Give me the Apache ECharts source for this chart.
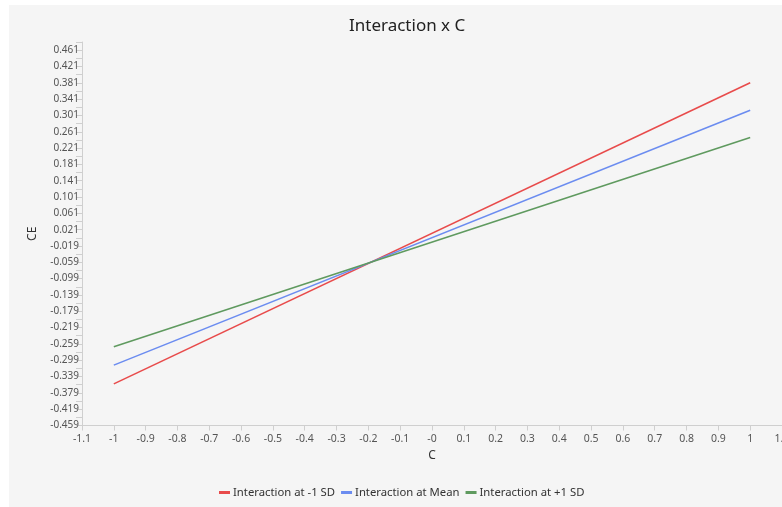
<!DOCTYPE html>
<html>
<head>
<meta charset="utf-8">
<script src="https://cdn.jsdelivr.net/npm/echarts@6/dist/echarts.min.js"></script>
<style>
  html, body { margin: 0; padding: 0; background: #ffffff; width: 782px; height: 507px; overflow: hidden; }
  #panel { position: absolute; left: 9px; top: 5px; width: 773px; height: 502px; background: #f5f5f5; }
</style>
</head>
<body>
<div id="panel"></div>
<script>
// Predicted CE across C, at three levels of the moderator
const xValues = [-1, 1];
const seriesNames = ['Interaction at -1 SD', 'Interaction at Mean', 'Interaction at +1 SD'];
const lowSD = [-0.357, 0.381];
const meanLevel = [-0.311, 0.314];
const highSD = [-0.266, 0.247];
const seriesColors = ['#e84b4b', '#6b8cf0', '#5f9a5f'];

// Axis ticks
const xTicks = [-1.1, -1, -0.9, -0.8, -0.7, -0.6, -0.5, -0.4, -0.3, -0.2, -0.1, 0, 0.1, 0.2, 0.3, 0.4, 0.5, 0.6, 0.7, 0.8, 0.9, 1, 1.1];
const xTickLabels = ['-1.1', '-1', '-0.9', '-0.8', '-0.7', '-0.6', '-0.5', '-0.4', '-0.3', '-0.2', '-0.1', '-0', '0.1', '0.2', '0.3', '0.4', '0.5', '0.6', '0.7', '0.8', '0.9', '1', '1.1'];
const yTickLabels = ['-0.459', '-0.419', '-0.379', '-0.339', '-0.299', '-0.259', '-0.219', '-0.179', '-0.139', '-0.099', '-0.059', '-0.019', '0.021', '0.061', '0.101', '0.141', '0.181', '0.221', '0.261', '0.301', '0.341', '0.381', '0.421', '0.461'];
const yMin = -0.459, yMax = 0.481;

const yTicks = yTickLabels.map(Number);
// major + minor tick marks on the value axis
const yTickMarks = [];
yTicks.forEach(v => { yTickMarks.push(v); yTickMarks.push(+(v + 0.02).toFixed(3)); });

function pairs(ys) { return xValues.map((x, i) => [x, ys[i]]); }

const chart = echarts.init(document.getElementById('panel'), null, { renderer: 'canvas' });
const font = '"Noto Sans", "Open Sans", sans-serif';
const axisColor = '#cfcfcf';

chart.setOption({
  backgroundColor: '#f5f5f5',
  animation: false,
  textStyle: { fontFamily: font },
  title: {
    text: 'Interaction x C',
    left: 335, top: 8,
    textStyle: { fontFamily: font, fontSize: 17, fontWeight: 'normal', color: '#222' }
  },
  legend: {
    bottom: 4, left: 205,
    icon: 'rect', itemWidth: 11, itemHeight: 3, itemGap: 6,
    textStyle: { fontFamily: font, fontSize: 11.3, color: '#333', padding: [0, 0, 0, -2] },
    data: seriesNames
  },
  grid: { left: 73, right: 0, top: 37, bottom: 81.5, containLabel: false, outerBoundsMode: 'none' },
  xAxis: {
    type: 'value', min: -1.1, max: 1.1,
    name: 'C', nameLocation: 'middle', nameGap: 22,
    nameTextStyle: { fontFamily: font, fontSize: 12, color: '#333' },
    axisLine: { show: true, onZero: false, lineStyle: { color: axisColor } },
    axisTick: { show: true, length: 5, customValues: xTicks, lineStyle: { color: axisColor } },
    axisLabel: {
      customValues: xTicks, fontSize: 10.5, color: '#555', margin: 8, hideOverlap: false,
      formatter: function (v) {
        let best = 0;
        xTicks.forEach((t, i) => { if (Math.abs(t - v) < Math.abs(xTicks[best] - v)) best = i; });
        return xTickLabels[best];
      }
    },
    splitLine: { show: false }
  },
  yAxis: {
    type: 'value', min: yMin, max: yMax,
    name: 'CE', nameLocation: 'middle', nameGap: 43, nameRotate: 90,
    nameTextStyle: { fontFamily: font, fontSize: 12, color: '#333' },
    axisLine: { show: true, onZero: false, lineStyle: { color: axisColor } },
    axisTick: { show: true, length: 6, customValues: yTickMarks, lineStyle: { color: axisColor } },
    axisLabel: {
      customValues: yTicks, fontSize: 10, color: '#555', margin: 3,
      formatter: function (v) {
        let best = 0;
        yTicks.forEach((t, i) => { if (Math.abs(t - v) < Math.abs(yTicks[best] - v)) best = i; });
        return yTickLabels[best];
      }
    },
    splitLine: { show: false }
  },
  series: [
    { name: seriesNames[0], type: 'line', data: pairs(lowSD), symbol: 'none', color: seriesColors[0], lineStyle: { width: 1.6 } },
    { name: seriesNames[1], type: 'line', data: pairs(meanLevel), symbol: 'none', color: seriesColors[1], lineStyle: { width: 1.6 } },
    { name: seriesNames[2], type: 'line', data: pairs(highSD), symbol: 'none', color: seriesColors[2], lineStyle: { width: 1.6 } }
  ]
});
</script>
</body>
</html>
